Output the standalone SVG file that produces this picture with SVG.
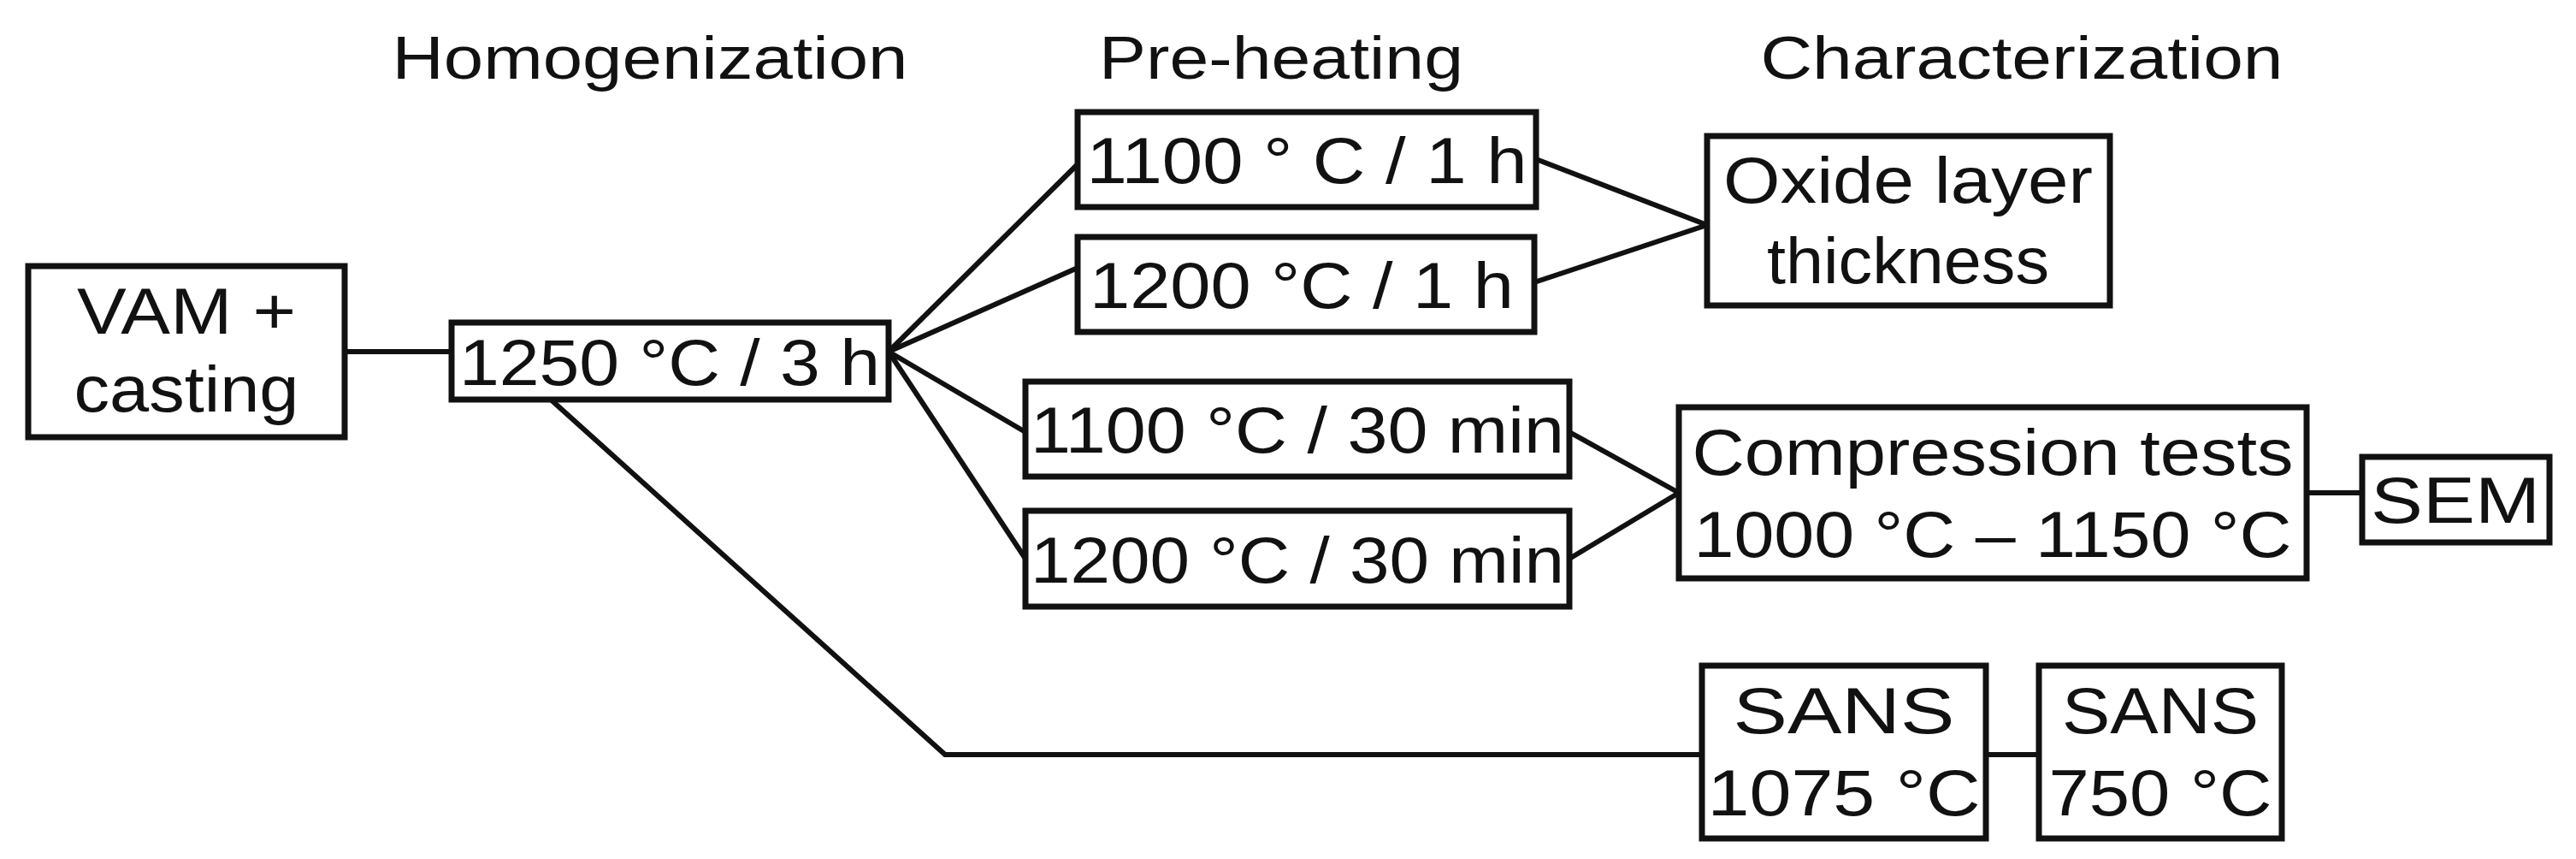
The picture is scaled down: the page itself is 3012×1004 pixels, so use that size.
<svg xmlns="http://www.w3.org/2000/svg" width="3012" height="1004" viewBox="0 0 3012 1004">
<style>
rect{fill:#fff;stroke:#111;stroke-width:7}
text{font-family:"Liberation Sans",Arial,sans-serif;font-size:76px;fill:#111;text-anchor:middle}
.t{font-size:70px}
#c line,#c polyline{stroke:#111;stroke-width:6;fill:none}
</style>
<rect width="3012" height="1004" style="fill:#fff;stroke:none"/>
<g id="titles">
<text class="t" x="760" y="92" textLength="603" lengthAdjust="spacingAndGlyphs">Homogenization</text>
<text class="t" x="1498" y="92" textLength="426" lengthAdjust="spacingAndGlyphs">Pre-heating</text>
<text class="t" x="2364" y="92" textLength="611" lengthAdjust="spacingAndGlyphs">Characterization</text>
</g>
<g id="c">
<line x1="403" y1="411" x2="528" y2="411"/>
<line x1="1039" y1="411" x2="1260" y2="192"/>
<line x1="1039" y1="411" x2="1260" y2="313"/>
<line x1="1039" y1="411" x2="1199" y2="505"/>
<line x1="1039" y1="411" x2="1199" y2="653"/>
<line x1="1796" y1="186" x2="1996" y2="263"/>
<line x1="1794" y1="330" x2="1996" y2="263"/>
<line x1="1835" y1="505" x2="1963" y2="576"/>
<line x1="1835" y1="653" x2="1963" y2="576"/>
<line x1="2697" y1="576" x2="2762" y2="576"/>
<polyline points="644,467 1105,882 1990,882"/>
<line x1="2322" y1="882" x2="2384" y2="882"/>
</g>
<g id="vam"><rect x="33" y="311" width="370" height="200"/>
<text x="218" y="390" textLength="256" lengthAdjust="spacingAndGlyphs">VAM +</text>
<text x="218" y="481" textLength="263" lengthAdjust="spacingAndGlyphs">casting</text></g>
<g id="homog"><rect x="528" y="377" width="511" height="90"/>
<text x="783" y="450" textLength="492" lengthAdjust="spacingAndGlyphs">1250 °C / 3 h</text></g>
<g id="p1"><rect x="1260" y="131" width="536" height="111"/>
<text x="1528" y="214" textLength="515" lengthAdjust="spacingAndGlyphs">1100 ° C / 1 h</text></g>
<g id="p2"><rect x="1260" y="277" width="534" height="111"/>
<text x="1522" y="360" textLength="496" lengthAdjust="spacingAndGlyphs">1200 °C / 1 h</text></g>
<g id="p3"><rect x="1199" y="446" width="636" height="111"/>
<text x="1517" y="529" textLength="624" lengthAdjust="spacingAndGlyphs">1100 °C / 30 min</text></g>
<g id="p4"><rect x="1199" y="597" width="636" height="112"/>
<text x="1517" y="681" textLength="624" lengthAdjust="spacingAndGlyphs">1200 °C / 30 min</text></g>
<g id="oxide"><rect x="1996" y="159" width="471" height="198"/>
<text x="2231" y="237" textLength="432" lengthAdjust="spacingAndGlyphs">Oxide layer</text>
<text x="2231" y="331" textLength="330" lengthAdjust="spacingAndGlyphs">thickness</text></g>
<g id="comp"><rect x="1963" y="476" width="734" height="200"/>
<text x="2330" y="555" textLength="703" lengthAdjust="spacingAndGlyphs">Compression tests</text>
<text x="2330" y="651" textLength="699" lengthAdjust="spacingAndGlyphs">1000 °C – 1150 °C</text></g>
<g id="sem"><rect x="2762" y="534" width="219" height="100"/>
<text x="2871" y="611" textLength="198" lengthAdjust="spacingAndGlyphs">SEM</text></g>
<g id="sans1"><rect x="1990" y="778" width="332" height="202"/>
<text x="2156" y="857" textLength="259" lengthAdjust="spacingAndGlyphs">SANS</text>
<text x="2156" y="953" textLength="319" lengthAdjust="spacingAndGlyphs">1075 °C</text></g>
<g id="sans2"><rect x="2384" y="778" width="284" height="202"/>
<text x="2526" y="857" textLength="230" lengthAdjust="spacingAndGlyphs">SANS</text>
<text x="2526" y="953" textLength="261" lengthAdjust="spacingAndGlyphs">750 °C</text></g>
</svg>
